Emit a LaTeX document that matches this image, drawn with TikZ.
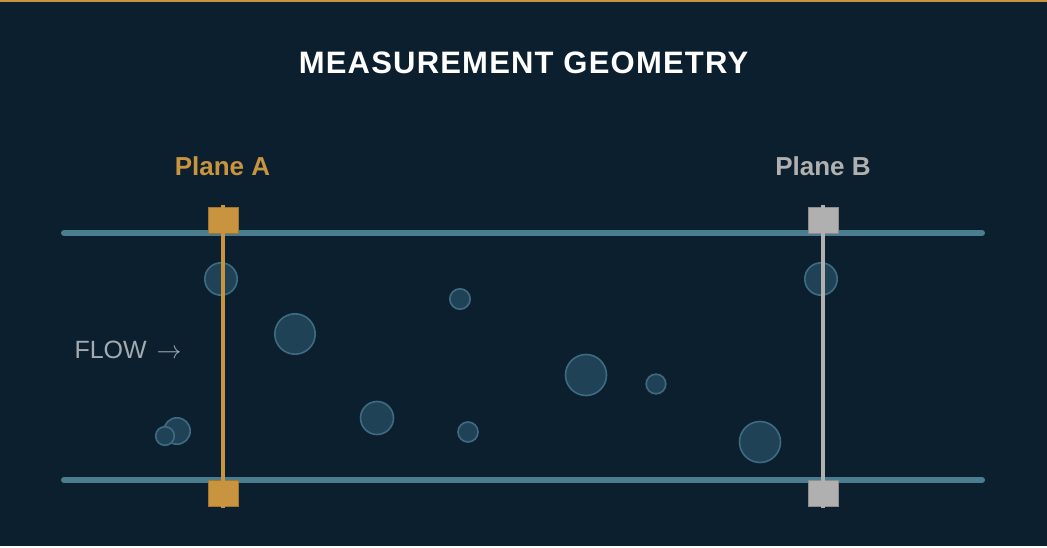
\documentclass[tikz,border=0pt]{standalone}
\usepackage{fontspec}
\setmainfont{Liberation Sans}
\usepackage{tikz}
\usetikzlibrary{positioning}
\definecolor{bg}{HTML}{0C1F2E}
\definecolor{gold}{HTML}{C8943F}
\definecolor{pipewall}{HTML}{4A7D8F}
\definecolor{bubfill}{HTML}{1F4257}
\definecolor{bubedge}{HTML}{3E6B80}
\definecolor{planegrey}{HTML}{B0B0B0}
\definecolor{flowgrey}{HTML}{A3AAB0}
\tikzset{
  wall/.style={draw=pipewall, line width=6pt, line cap=round},
  bubble/.style={draw=bubedge, fill=bubfill, line width=1.6pt},
  marker/.style={minimum width=30pt, minimum height=26pt, inner sep=0pt, outer sep=0pt},
}

\begin{document}
\begin{tikzpicture}[x=1pt, y=-1pt]
\useasboundingbox (0,0) rectangle (1047,548);
% background and top rule
\fill[bg] (0,0) rectangle (1047,546);
\fill[gold] (0,0) rectangle (1047,2);
% title
\node[anchor=base, white, font=\bfseries\fontsize{31}{36}\selectfont\addfontfeature{LetterSpace=3.9}] (title) at (523.5,74) {MEASUREMENT GEOMETRY};
% pipe walls
\coordinate (wallTL) at (64,233);
\coordinate (wallTR) at (982,233);
\coordinate (wallBL) at (64,480);
\coordinate (wallBR) at (982,480);
\draw[wall] (wallTL) -- (wallTR);
\draw[wall] (wallBL) -- (wallBR);
% bubbles
\foreach \bx/\by/\br in {221/279/16.2, 295/334/20.2, 460/299/10.2, 377/418/16.5,
  468/432/10, 586/375/20.5, 656/384/9.8, 760/442/20.5, 821/279/16.2,
  177/431/13.2, 165/436/9.3}
  \draw[bubble] (\bx,\by) circle (\br);
% flow label
\node[anchor=base west, flowgrey, font=\fontsize{25}{30}\selectfont] (flow) at (71,358) {FLOW\hspace{3pt} $\rightarrow$};
% Plane A
\node[anchor=base, gold, font=\bfseries\fontsize{26}{31}\selectfont] (labelA) at (222.5,176) {Plane A};
\node[marker, fill=gold, draw=gold!80!black, line width=0.8pt] (sqAtop) at (223,220.5) {};
\node[marker, fill=gold, draw=gold!80!black, line width=0.8pt] (sqAbot) at (223,493) {};
\draw[gold, line width=4pt, shorten <=-2pt, shorten >=-2pt] (sqAtop.north) -- (sqAbot.south);
% Plane B
\node[anchor=base, planegrey, font=\bfseries\fontsize{26}{31}\selectfont] (labelB) at (823,176) {Plane B};
\node[marker, fill=planegrey, draw=planegrey!80!black, line width=0.8pt] (sqBtop) at (823,220.5) {};
\node[marker, fill=planegrey, draw=planegrey!80!black, line width=0.8pt] (sqBbot) at (823,493) {};
\draw[planegrey, line width=4pt, shorten <=-2pt, shorten >=-2pt] (sqBtop.north) -- (sqBbot.south);
\end{tikzpicture}
\end{document}
